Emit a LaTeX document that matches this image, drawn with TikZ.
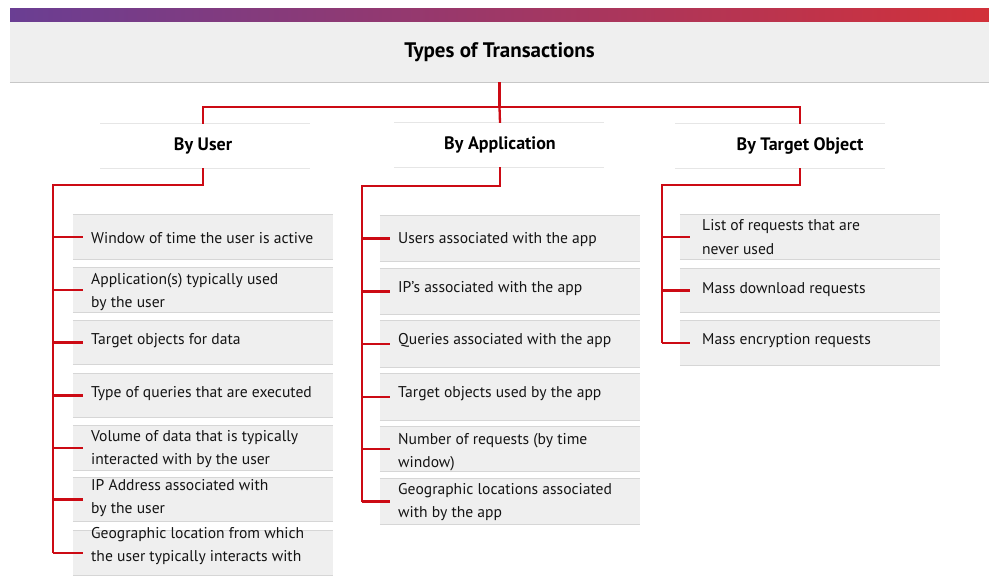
\documentclass[tikz,border=0pt]{standalone}
\usepackage{fontspec}
\setmainfont{PT Sans}
\definecolor{barL}{HTML}{6A3E93}
\definecolor{barR}{HTML}{D2313A}
\definecolor{hdrgray}{HTML}{EFEFEF}
\definecolor{boxgray}{HTML}{EFEFEF}
\definecolor{rulegray}{HTML}{D6D6D6}
\definecolor{catline}{HTML}{E6E6E6}
\definecolor{connred}{HTML}{CC0A14}
\tikzset{
  conn/.style={draw=connred, line width=2.3pt},
  header/.style={fill=hdrgray, minimum width=979pt, minimum height=60pt, inner sep=0pt,
    font=\fontsize{21}{24}\selectfont\bfseries},
  cat/.style={minimum width=210pt, minimum height=44pt, inner sep=0pt,
    font=\fontsize{18}{21}\selectfont\bfseries},
  itembox/.style={fill=boxgray, minimum width=260pt, minimum height=44pt, inner sep=0pt},
  itemtext/.style={anchor=west, align=left, inner sep=0pt, text=black!92,
    font=\fontsize{15.6}{23.5}\selectfont},
  boxrule/.style={draw=rulegray, line width=1.2pt},
  catrule/.style={draw=catline, line width=1pt},
}
\begin{document}
\begin{tikzpicture}[x=1pt, y=-1pt]
\useasboundingbox (0,0) rectangle (989,576);
% top bar
\shade[left color=barL, right color=barR] (10,8) rectangle (989,22);
% header
\node[header] (hdr) at (499.5,52) {Types of Transactions};
\draw[draw=black!22, line width=1pt] (hdr.south west) -- (hdr.south east);
% categories
\node[cat] (cu) at (203,146) {By User};
\node[cat] (ca) at (500,145) {By Application};
\node[cat] (ct) at (800,146) {By Target Object};
\foreach \c/\dx in {cu/2,ca/-1,ct/-20}{
  \draw[catrule] ([xshift=\dx pt]\c.north west) -- ([xshift=\dx pt]\c.north east);
  \draw[catrule] ([xshift=\dx pt]\c.south west) -- ([xshift=\dx pt]\c.south east);
}
% user items
\node[itembox] (u1) at (203,237) {};
\node[itembox] (u2) at (203,290) {};
\node[itembox] (u3) at (203,342.5) {};
\node[itembox] (u4) at (203,395.5) {};
\node[itembox] (u5) at (203,448) {};
\node[itembox] (u6) at (203,499.5) {};
\node[itembox] (u7) at (203,553) {};
% app items
\node[itembox, minimum height=46pt] (a1) at (510,238.5) {};
\node[itembox, minimum height=46pt] (a2) at (510,291.5) {};
\node[itembox, minimum height=46pt] (a3) at (510,344) {};
\node[itembox, minimum height=46pt] (a4) at (510,397) {};
\node[itembox] (a5) at (510,449) {};
\node[itembox, minimum height=46pt] (a6) at (510,501.5) {};
% target items
\node[itembox] (t1) at (810,237) {};
\node[itembox] (t2) at (810,290.5) {};
\node[itembox] (t3) at (810,343) {};
\foreach \b in {u1,u2,u3,u4,u5,u6,u7,a1,a2,a3,a4,a5,a6,t1,t2,t3}{
  \draw[boxrule] (\b.north west) -- (\b.north east);
  \draw[boxrule] (\b.south west) -- (\b.south east);
}
% texts
\node[itemtext] (u1t) at (91,238) {Window of time the user is active};
\node[itemtext] (u2t) at (91,292) {Application(s) typically used\\by the user};
\node[itemtext] (u3t) at (91,341) {Target objects for data};
\node[itemtext] (u4t) at (91,394) {Type of queries that are executed};
\node[itemtext] (u5t) at (91,449) {Volume of data that is typically\\interacted with by the user};
\node[itemtext] (u6t) at (91,498) {IP Address associated with\\by the user};
\node[itemtext] (u7t) at (91,546) {Geographic location from which\\the user typically interacts with};
\node[itemtext] (a1t) at (398,240) {Users associated with the app};
\node[itemtext] (a2t) at (398,289) {IP’s associated with the app};
\node[itemtext] (a3t) at (398,341) {Queries associated with the app};
\node[itemtext] (a4t) at (398,394) {Target objects used by the app};
\node[itemtext] (a5t) at (398,452) {Number of requests (by time\\window)};
\node[itemtext] (a6t) at (398,502) {Geographic locations associated\\with by the app};
\node[itemtext] (t1t) at (702,237) {List of requests that are\\never used};
\node[itemtext] (t2t) at (702,290) {Mass download requests};
\node[itemtext] (t3t) at (702,341) {Mass encryption requests};
% connectors: top level
\coordinate (j) at (hdr.south |- 0,107);
\draw[conn] (hdr.south) -- (j);
\draw[conn] (j) -| (cu.north);
\draw[conn] (j) -| (ct.north);
\draw[conn] (j) -- (ca.north);
% second level spines
\coordinate (us) at (53,185);
\coordinate (as) at (362,186);
\coordinate (ts) at (662,185);
\draw[conn] (cu.south) |- (us) -- (us |- u7.west);
\draw[conn] (ca.south) |- (as) -- (as |- a6.west);
\draw[conn] (ct.south) |- (ts) -- (ts |- t3.west);
\foreach \b in {u1,u2,u3,u4,u5,u6,u7}{
  \draw[conn] (us |- \b.west) -- ([xshift=10pt]\b.west);
}
\foreach \b in {a1,a2,a3,a4,a5,a6}{
  \draw[conn] (as |- \b.west) -- ([xshift=10pt]\b.west);
}
\foreach \b in {t1,t2,t3}{
  \draw[conn] (ts |- \b.west) -- ([xshift=10pt]\b.west);
}
\end{tikzpicture}
\end{document}
